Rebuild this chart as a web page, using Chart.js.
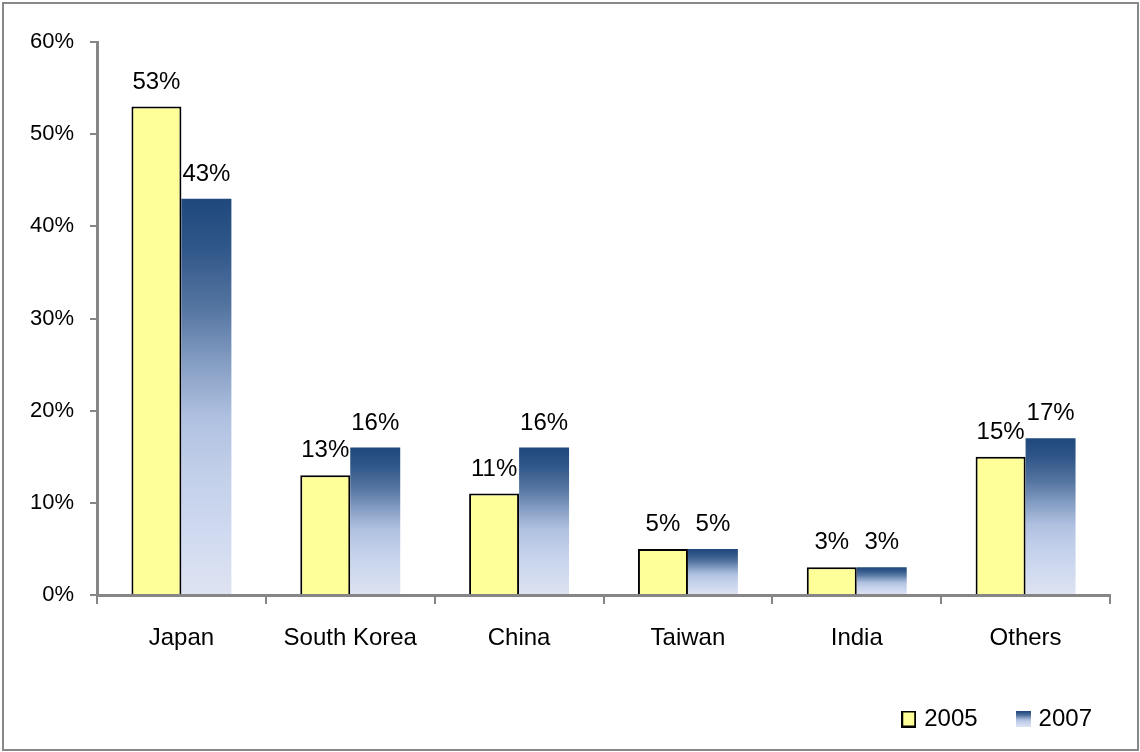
<!DOCTYPE html>
<html>
<head>
<meta charset="utf-8">
<script src="https://cdn.jsdelivr.net/npm/chart.js@4/dist/chart.umd.min.js"></script>
<style>
    html, body { margin: 0; padding: 0; background: #fff; }
    body { width: 1140px; height: 752px; position: relative; overflow: hidden; }
    #frame {
        position: absolute; left: 2px; top: 2px; width: 1137px; height: 749px;
        box-sizing: border-box; border: 2px solid #888888;
    }
    #chart { position: absolute; left: 0; top: 0; }
</style>
</head>
<body>
<div id="frame"></div>
<canvas id="chart" width="1140" height="752"></canvas>
<script>
const regions = ["Japan", "South Korea", "China", "Taiwan", "India", "Others"];
const share2005 = [53, 13, 11, 5, 3, 15];
const share2007 = [43, 16, 16, 5, 3, 17];
const yTicks = [0, 10, 20, 30, 40, 50, 60];

const FONT = "'Liberation Sans', Arial, sans-serif";
const AXIS_GREY = "#868686";
const YELLOW = "#FFFF99";

// dark blue at the top of each bar fading to pale lavender at the base
const blueStops = [
    [0.00, "#1F487C"],
    [0.12, "#2F5688"],
    [0.28, "#5676A2"],
    [0.42, "#869FC4"],
    [0.55, "#AFC0E0"],
    [0.70, "#C3D0EA"],
    [0.85, "#D0DAF0"],
    [1.00, "#DEE3F1"],
];

function addStops(g) {
    blueStops.forEach(([at, c]) => g.addColorStop(at, c));
    return g;
}

function blueFill(ctx) {
    const y = ctx.chart.scales.y;
    if (!y || ctx.raw == null) return "#1F487C";
    const top = y.getPixelForValue(ctx.raw);
    const base = y.getPixelForValue(0);
    return addStops(ctx.chart.ctx.createLinearGradient(0, top, 0, base));
}

// small swatches used as legend markers
function swatch2005() {
    const c = document.createElement("canvas");
    c.width = 15; c.height = 17;
    const g = c.getContext("2d");
    g.fillStyle = YELLOW;
    g.fillRect(0, 0, 15, 17);
    g.strokeStyle = "#000";
    g.lineWidth = 2;
    g.strokeRect(1, 1, 13, 15);
    return c;
}

function swatch2007() {
    const c = document.createElement("canvas");
    c.width = 15; c.height = 16;
    const g = c.getContext("2d");
    g.fillStyle = addStops(g.createLinearGradient(0, 0, 0, 16));
    g.fillRect(0, 0, 15, 16);
    return c;
}

const legendMarks = [swatch2005(), swatch2007()];

const valueLabels = {
    id: "valueLabels",
    afterDatasetsDraw(chart) {
        const ctx = chart.ctx;
        ctx.save();
        ctx.font = "24px " + FONT;
        ctx.fillStyle = "#000";
        ctx.textAlign = "center";
        ctx.textBaseline = "alphabetic";
        chart.data.datasets.forEach((ds, i) => {
            chart.getDatasetMeta(i).data.forEach((bar, j) => {
                ctx.fillText(ds.data[j] + "%", bar.x, bar.y - 18);
            });
        });
        ctx.restore();
    }
};

new Chart(document.getElementById("chart"), {
    type: "bar",
    data: {
        labels: regions,
        datasets: [
            {
                label: "2005",
                data: share2005,
                backgroundColor: YELLOW,
                borderColor: "#000",
                borderWidth: 2,
            },
            {
                label: "2007",
                data: share2007,
                backgroundColor: blueFill,
                borderWidth: 0,
            },
        ],
    },
    options: {
        responsive: false,
        animation: false,
        events: [],
        categoryPercentage: 0.592,
        barPercentage: 1,
        layout: { padding: { left: 0, right: 6, top: 42, bottom: 11 } },
        scales: {
            x: {
                grid: {
                    offset: true,
                    drawOnChartArea: false,
                    color: AXIS_GREY,
                    lineWidth: 2,
                    tickLength: 9,
                },
                border: { color: AXIS_GREY, width: 3 },
                ticks: {
                    color: "#000",
                    font: { family: FONT, size: 24 },
                    padding: 20,
                    maxRotation: 0,
                },
                afterFit(scale) { scale.height = 70; },
            },
            y: {
                min: 0,
                max: 60,
                afterBuildTicks(scale) {
                    scale.ticks = yTicks.map(v => ({ value: v }));
                },
                grid: {
                    drawOnChartArea: false,
                    color: AXIS_GREY,
                    lineWidth: 2,
                    tickLength: 7,
                },
                border: { color: AXIS_GREY, width: 3 },
                ticks: {
                    color: "#000",
                    font: { family: FONT, size: 22 },
                    padding: 16,
                    callback: v => v + "%",
                },
                afterFit(scale) { scale.width = 97; },
            },
            // empty right-hand strip so the plot ends before the legend does
            spacer: {
                type: "linear",
                position: "right",
                display: true,
                grid: { display: false },
                border: { display: false },
                ticks: { display: false },
                afterFit(scale) { scale.width = 24; },
            },
        },
        plugins: {
            tooltip: { enabled: false },
            legend: {
                position: "bottom",
                align: "end",
                labels: {
                    color: "#000",
                    font: { family: FONT, size: 24 },
                    usePointStyle: true,
                    boxWidth: 7,
                    padding: 42,
                    generateLabels(chart) {
                        return chart.data.datasets.map((ds, i) => ({
                            text: ds.label,
                            pointStyle: legendMarks[i],
                            fillStyle: "transparent",
                            strokeStyle: "transparent",
                            lineWidth: 0,
                            hidden: false,
                            datasetIndex: i,
                        }));
                    },
                },
            },
        },
    },
    plugins: [valueLabels],
});
</script>
</body>
</html>
